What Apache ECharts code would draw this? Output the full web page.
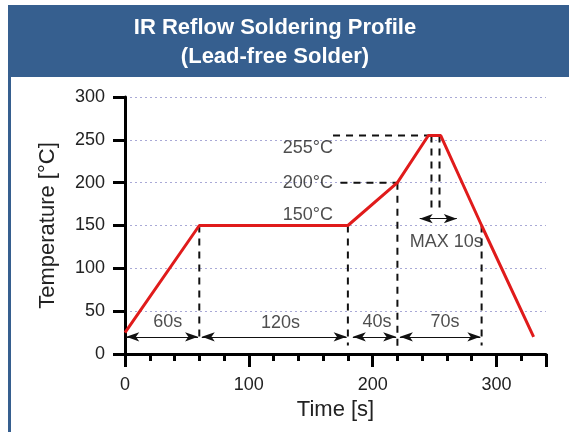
<!DOCTYPE html>
<html>
<head>
<meta charset="utf-8">
<script src="https://cdn.jsdelivr.net/npm/echarts@6/dist/echarts.min.js"></script>
<style>
html,body{margin:0;padding:0;background:#fff;}
#chart{width:569px;height:432px;}
</style>
</head>
<body>
<div id="chart"></div>
<script>
// ---- data ----
const titleLines = ['IR Reflow Soldering Profile', '(Lead-free Solder)'];
const xTicks = [0, 100, 200, 300];
const yTicks = [0, 50, 100, 150, 200, 250, 300];
const profileTime = [0, 60, 180, 220, 245, 255, 288, 330];
const profileTemp = [25, 150, 150, 200, 255, 255, 150, 20];

// dashed guide lines: [x1, y1, x2, y2]
const guides = [
  [60, 150, 60, 20],
  [180, 150, 180, 10],
  [220, 200, 220, 8],
  [288, 150, 288, 10],
  [247.5, 255, 247.5, 165],
  [254, 255, 254, 165],
  [168, 255, 246, 255],
  [174, 200, 220, 200]
];
// double-headed arrows: [x1, x2, y]
const arrows = [
  [1, 59, 20],
  [62, 179, 20],
  [184, 219, 20],
  [222, 287, 20],
  [238, 268, 158]
];
// centred labels
const labelText = ['60s', '120s', '40s', '70s', 'MAX 10s'];
const labelX = [34.5, 125.5, 203.5, 258.5, 259.5];
const labelY = [37, 36, 37, 37, 131];
// right-aligned temperature labels
const tempText = ['255°C', '200°C', '150°C'];
const tempX = [168, 168, 168];
const tempY = [240, 200, 162];

// ---- build ----
const FONT = 'Liberation Sans, Arial, sans-serif';
const chart = echarts.init(document.getElementById('chart'));

const series = [];
series.push({
  type: 'line',
  data: profileTime.map((t, i) => [t, profileTemp[i]]),
  symbol: 'none',
  lineStyle: { color: '#e01b1b', width: 3 },
  z: 5,
  silent: true
});
guides.forEach(g => {
  series.push({
    type: 'line',
    data: [[g[0], g[1]], [g[2], g[3]]],
    symbol: 'none',
    lineStyle: { color: '#111', width: 2, type: [7, 6] },
    z: 4,
    silent: true
  });
});
series.push({
  type: 'line',
  data: [],
  silent: true,
  markLine: {
    silent: true,
    symbol: ['arrow', 'arrow'],
    symbolSize: [7, 13],
    label: { show: false },
    lineStyle: { color: '#111', width: 1, type: 'solid' },
    emphasis: { disabled: true },
    data: arrows.map(a => [{ coord: [a[0], a[2]] }, { coord: [a[1], a[2]] }])
  }
});
series.push({
  type: 'scatter',
  symbolSize: 0,
  silent: true,
  data: labelText.map((s, i) => ({ name: s, value: [labelX[i], labelY[i]] })),
  label: {
    show: true, position: 'inside', formatter: p => p.name,
    color: '#222', fontSize: 18, fontFamily: FONT
  },
  z: 6
});
series.push({
  type: 'scatter',
  symbolSize: 0,
  silent: true,
  data: tempText.map((s, i) => ({ name: s, value: [tempX[i], tempY[i]] })),
  label: {
    show: true, position: 'left', distance: 0, formatter: p => p.name,
    color: '#222', fontSize: 18, fontFamily: FONT
  },
  z: 6
});

const option = {
  animation: false,
  backgroundColor: '#fff',
  graphic: [
    { type: 'rect', shape: { x: 8, y: 5, width: 561, height: 72 }, style: { fill: '#365f8f' }, z: -10 },
    { type: 'rect', shape: { x: 8, y: 5, width: 3, height: 427 }, style: { fill: '#365f8f' }, z: -10 }
  ],
  title: {
    text: titleLines.join('\n'),
    left: 270,
    top: 8,
    textAlign: 'center',
    textStyle: { color: '#fff', fontSize: 22, fontWeight: 'bold', lineHeight: 29, fontFamily: FONT }
  },
  grid: { left: 125, right: 23, top: 97, bottom: 78 },
  xAxis: [
    {
      type: 'value', min: 0, max: 340, interval: 20,
      name: 'Time [s]', nameLocation: 'middle', nameGap: 44,
      nameTextStyle: { fontSize: 22, color: '#222', fontFamily: FONT },
      axisLine: { show: true, lineStyle: { color: '#000', width: 3 } },
      axisTick: { show: true, length: 7, lineStyle: { color: '#000', width: 3 } },
      axisLabel: { margin: 22, fontSize: 18, color: '#222', fontFamily: FONT,
        formatter: v => xTicks.indexOf(v) >= 0 ? String(v) : '' },
      splitLine: { show: false }
    },
    {
      type: 'value', min: 0, max: 340, interval: 100, position: 'bottom',
      axisLine: { show: false },
      axisTick: { show: true, length: 13, lineStyle: { color: '#000', width: 3 } },
      axisLabel: { show: false },
      splitLine: { show: false }
    }
  ],
  yAxis: {
    type: 'value', min: 0, max: 300, interval: 50,
    name: 'Temperature [°C]', nameLocation: 'middle', nameGap: 66,
    nameTextStyle: { fontSize: 22, color: '#222', fontFamily: FONT },
    axisLine: { show: true, lineStyle: { color: '#000', width: 3 } },
    axisTick: { show: true, length: 12, lineStyle: { color: '#000', width: 3 } },
    axisLabel: { margin: 20, fontSize: 18, color: '#222', fontFamily: FONT,
      formatter: v => yTicks.indexOf(v) >= 0 ? String(v) : '' },
    splitLine: { show: true, lineStyle: { color: '#a9a9d6', width: 1, type: [2, 3] } }
  },
  series: series
};
chart.setOption(option);
</script>
</body>
</html>
